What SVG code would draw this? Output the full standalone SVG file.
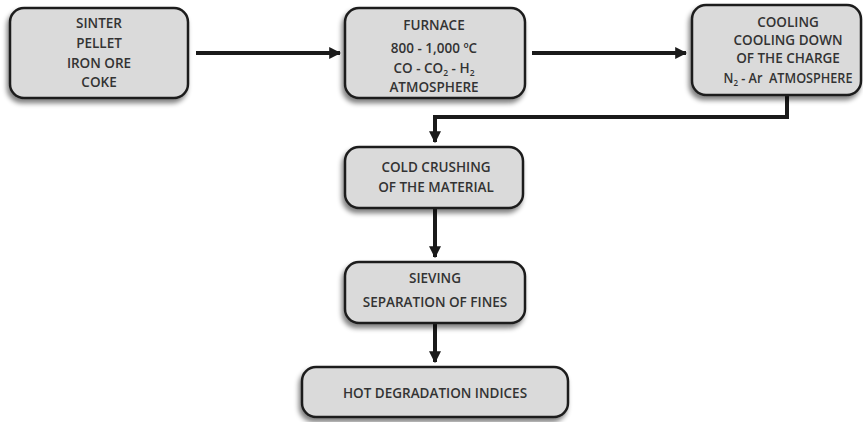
<svg xmlns="http://www.w3.org/2000/svg" width="863" height="422" viewBox="0 0 863 422">
<defs>
<filter id="sh" x="-20%" y="-20%" width="140%" height="150%">
<feGaussianBlur in="SourceAlpha" stdDeviation="2.5"/>
<feOffset dx="-2" dy="4" result="b"/>
<feComponentTransfer><feFuncA type="linear" slope="0.5"/></feComponentTransfer>
<feMerge><feMergeNode/><feMergeNode in="SourceGraphic"/></feMerge>
</filter>
<marker id="ah" viewBox="0 0 10 10" refX="9" refY="5" markerWidth="3" markerHeight="3" orient="auto" markerUnits="strokeWidth">
<path d="M0,0 L10,5 L0,10 Z" fill="#1a1a1a"/>
</marker>
</defs>
<style>
.box{fill:#dadada;stroke:#1e1e1e;stroke-width:2.5;filter:url(#sh)}
.t{font-family:"Open Sans","Liberation Sans",sans-serif;font-size:13.5px;font-weight:600;fill:#333;text-anchor:middle}
.c{fill:none;stroke:#1a1a1a;stroke-width:4}
</style>
<rect width="863" height="422" fill="#fff"/>
<g id="connectors">
<line class="c" x1="196" y1="53" x2="340" y2="53" marker-end="url(#ah)"/>
<line class="c" x1="532" y1="53" x2="686" y2="53" marker-end="url(#ah)"/>
<polyline class="c" points="787,96 787,117 435,117 435,142" marker-end="url(#ah)"/>
<line class="c" x1="435" y1="209" x2="435" y2="257" marker-end="url(#ah)"/>
<line class="c" x1="435" y1="324" x2="435" y2="362" marker-end="url(#ah)"/>
</g>
<g id="n1">
<rect class="box" x="10" y="8" width="178" height="90" rx="14"/>
<text class="t" x="99" y="28">SINTER</text>
<text class="t" x="99" y="48">PELLET</text>
<text class="t" x="99" y="68">IRON ORE</text>
<text class="t" x="99" y="87">COKE</text>
</g>
<g id="n2">
<rect class="box" x="345" y="8" width="180" height="90" rx="14"/>
<text class="t" x="434" y="30">FURNACE</text>
<text class="t" x="434" y="53">800 - 1,000 ºC</text>
<text class="t" x="434" y="73">CO - CO<tspan font-size="8.5" dy="3">2</tspan><tspan dy="-3"> - H</tspan><tspan font-size="8.5" dy="3">2</tspan></text>
<text class="t" x="434" y="92">ATMOSPHERE</text>
</g>
<g id="n3">
<rect class="box" x="692" y="5" width="169" height="90" rx="14"/>
<text class="t" x="788" y="27">COOLING</text>
<text class="t" x="788" y="45">COOLING DOWN</text>
<text class="t" x="788" y="63">OF THE CHARGE</text>
<text class="t" x="788" y="83" textLength="129" lengthAdjust="spacingAndGlyphs">N<tspan font-size="8.5" dy="3">2</tspan><tspan dy="-3" xml:space="preserve"> - Ar  ATMOSPHERE</tspan></text>
</g>
<g id="n4">
<rect class="box" x="345" y="147" width="178" height="61" rx="14"/>
<text class="t" x="436" y="172">COLD CRUSHING</text>
<text class="t" x="436" y="192">OF THE MATERIAL</text>
</g>
<g id="n5">
<rect class="box" x="345" y="262" width="180" height="61" rx="14"/>
<text class="t" x="435" y="283">SIEVING</text>
<text class="t" x="435" y="307">SEPARATION OF FINES</text>
</g>
<g id="n6">
<rect class="box" x="302" y="367" width="266" height="50" rx="14"/>
<text class="t" x="435" y="398">HOT DEGRADATION INDICES</text>
</g>
</svg>
